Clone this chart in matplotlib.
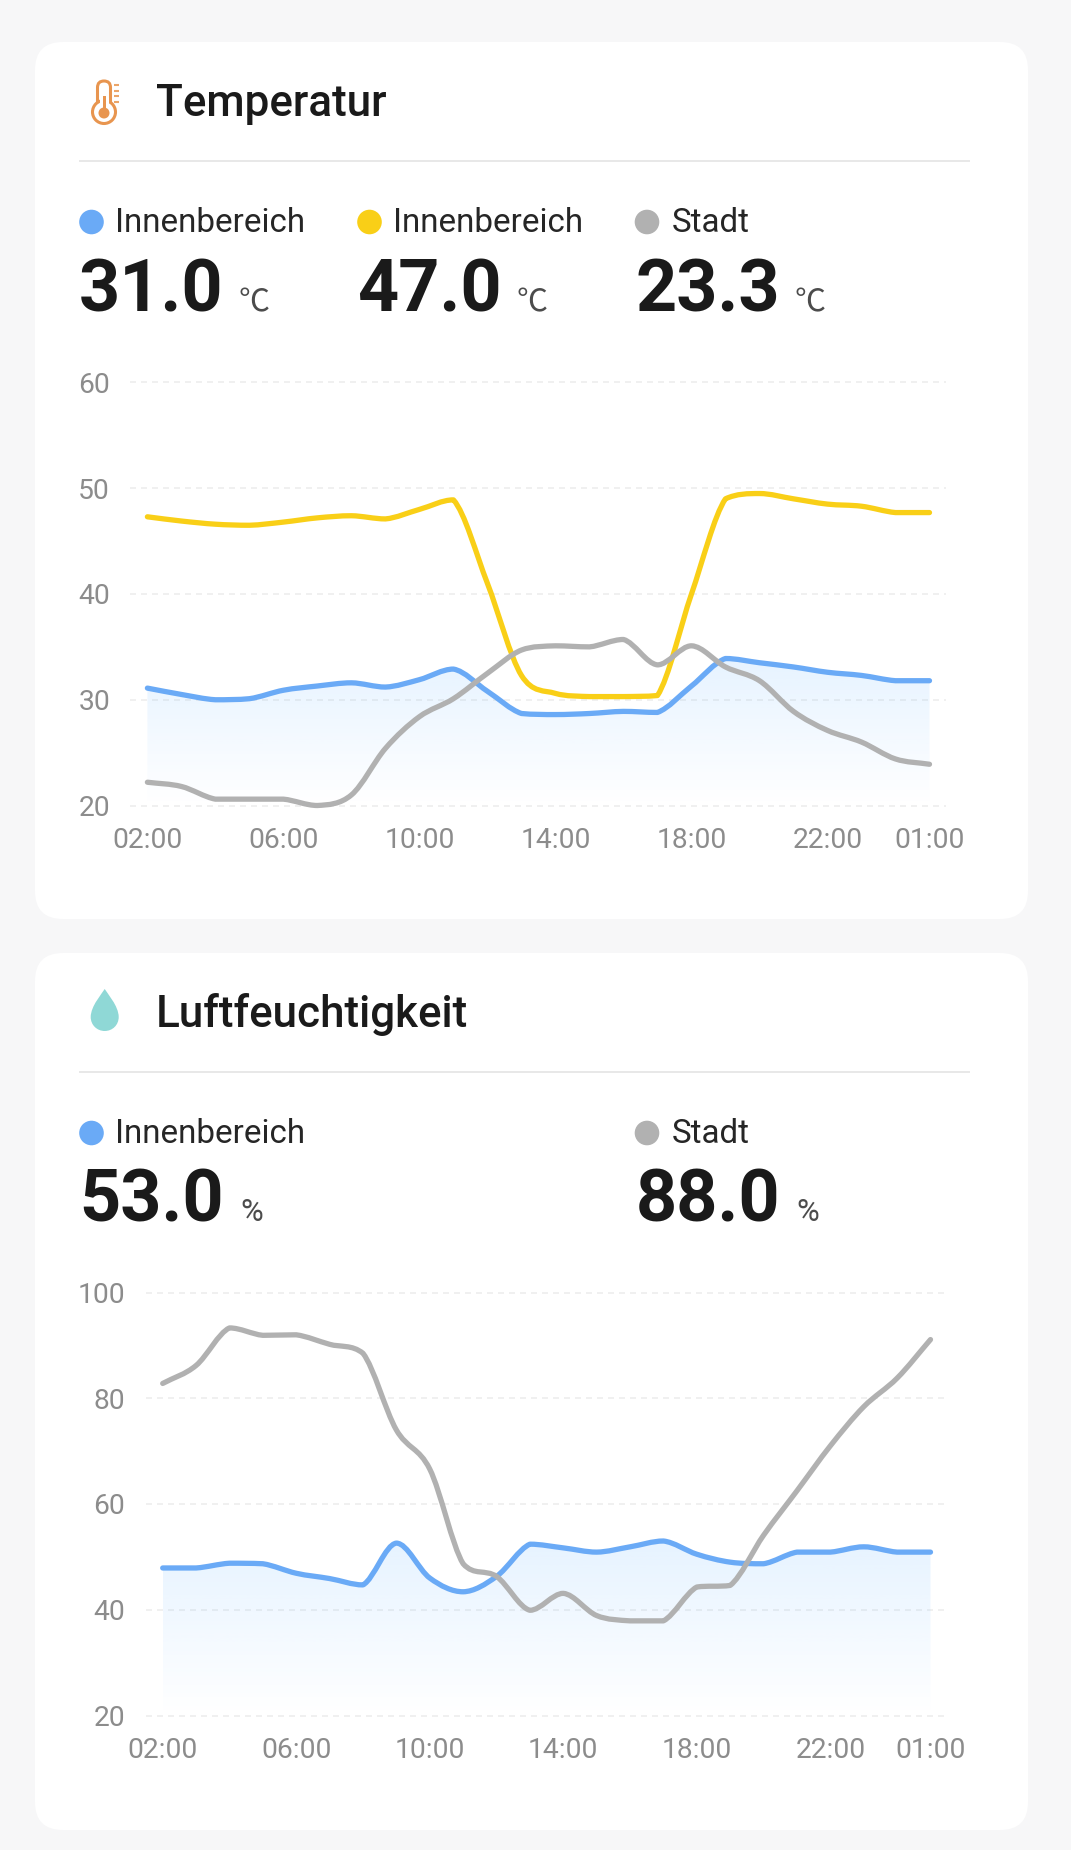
import numpy as np
import matplotlib
matplotlib.use("Agg")
import matplotlib.pyplot as plt
from matplotlib.patches import FancyBboxPatch, PathPatch, Circle, Rectangle
from matplotlib.path import Path

plt.rcParams["font.family"] = ["Roboto", "Noto Sans CJK SC", "DejaVu Sans"]

W, H = 1071, 1850

stunden = ["02:00", "03:00", "04:00", "05:00", "06:00", "07:00", "08:00", "09:00",
           "10:00", "11:00", "12:00", "13:00", "14:00", "15:00", "16:00", "17:00",
           "18:00", "19:00", "20:00", "21:00", "22:00", "23:00", "00:00", "01:00"]
tick_stunden = ["02:00", "06:00", "10:00", "14:00", "18:00", "22:00", "01:00"]

temp_innen = [31.1, 30.5, 30.0, 30.1, 30.9, 31.3, 31.6, 31.2, 31.9, 32.9, 30.8, 28.7,
              28.6, 28.7, 28.9, 28.8, 31.3, 33.9, 33.5, 33.1, 32.6, 32.3, 31.8, 31.8]
temp_innen2 = [47.3, 46.9, 46.6, 46.5, 46.8, 47.2, 47.4, 47.1, 48.0, 48.9, 41.0, 32.3,
               30.6, 30.3, 30.3, 30.4, 40.0, 49.0, 49.5, 49.0, 48.5, 48.3, 47.7, 47.7]
temp_stadt = [22.2, 21.8, 20.6, 20.6, 20.6, 20.0, 21.0, 25.4, 28.4, 30.1, 32.5, 34.7,
              35.1, 35.0, 35.7, 33.3, 35.1, 33.1, 31.8, 28.9, 27.1, 26.0, 24.4, 23.9]
temp_ticks = [20, 30, 40, 50, 60]

feucht_innen = [47.9, 47.9, 48.8, 48.7, 46.9, 45.9, 44.7, 52.6, 46.0, 43.4, 46.3, 52.4,
                51.7, 50.9, 51.9, 53.0, 50.5, 49.0, 48.7, 50.9, 50.9, 51.9, 50.9, 50.9]
feucht_stadt = [82.8, 86.2, 93.3, 91.9, 92.0, 90.2, 88.5, 74.0, 66.6, 48.7, 46.3, 39.9,
                43.1, 38.9, 37.9, 37.9, 44.3, 44.6, 54.1, 62.5, 71.0, 78.4, 83.8, 91.1]
feucht_ticks = [20, 40, 60, 80, 100]

BLAU = "#6aaaf6"
GELB = "#f9cf17"
GRAU = "#b1b1b1"
ORANGE = "#e8954f"
TUERKIS = "#8fd8d6"
SCHWARZ = "#1a1a1a"


def px(v):
    return v * 0.72


def glatt_pfad(y):
    """Bezier-Pfad durch alle Stundenwerte, Kontrollpunkte bleiben zwischen den Nachbarn."""
    y = np.asarray(y, dtype=float)
    x = np.arange(len(y), dtype=float)
    m = np.gradient(y)
    verts = [(x[0], y[0])]
    codes = [Path.MOVETO]
    for i in range(len(y) - 1):
        lo, hi = min(y[i], y[i + 1]), max(y[i], y[i + 1])
        verts += [(x[i] + 1 / 3, np.clip(y[i] + m[i] / 3, lo, hi)),
                  (x[i + 1] - 1 / 3, np.clip(y[i + 1] - m[i + 1] / 3, lo, hi)),
                  (x[i + 1], y[i + 1])]
        codes += [Path.CURVE4] * 3
    return verts, codes


def chart(box, plot_x, ticks, serien, tick_pad):
    """Zeichnet ein Diagramm. box = links, oben, rechts, unten in Pixeln."""
    links, oben, rechts, unten = box
    ax = fig.add_axes([links / W, 1 - unten / H, (rechts - links) / W, (unten - oben) / H])
    ax.patch.set_alpha(0)
    schritt = (plot_x[1] - plot_x[0]) / (len(stunden) - 1)
    xlim = ((links - plot_x[0]) / schritt, (rechts - plot_x[0]) / schritt)

    # Flaeche unter der ersten Reihe, von oben nach unten ausgeblendet
    verts, codes = glatt_pfad(serien[0][0])
    flaeche = Path(verts + [(len(stunden) - 1, ticks[0]), (0, ticks[0]), (0, verts[0][1]), (0, verts[0][1])],
                   codes + [Path.LINETO, Path.LINETO, Path.LINETO, Path.CLOSEPOLY])
    verlauf = np.zeros((200, 1, 4))
    verlauf[:, 0, :3] = matplotlib.colors.to_rgb("#64b4ff")
    verlauf[:, 0, 3] = np.linspace(0.16, 0.0, 200)
    top = max(serien[0][0])
    bild = ax.imshow(verlauf, extent=(0, len(stunden) - 1, ticks[0], top), aspect="auto", zorder=1)
    bild.set_clip_path(PathPatch(flaeche, transform=ax.transData))

    for t in ticks:
        ax.plot(xlim, [t, t], color="#f0f0f0", lw=1.44, ls=(0, (3, 2.5)), zorder=0, clip_on=False)

    for i, (werte, farbe) in enumerate(serien):
        verts, codes = glatt_pfad(werte)
        ax.add_patch(PathPatch(Path(verts, codes), fill=False, ec=farbe, lw=3.8,
                               capstyle="round", joinstyle="round", zorder=2 + i, clip_on=False))

    ax.set_xlim(xlim)
    ax.set_ylim(ticks[0], ticks[-1])
    ax.set_xticks([stunden.index(s) for s in tick_stunden], tick_stunden)
    ax.set_yticks(ticks, [str(t) for t in ticks])
    ax.tick_params(length=0, labelsize=px(28.3), labelcolor="#8c8c8c")
    ax.tick_params(axis="x", pad=px(22))
    ax.tick_params(axis="y", pad=px(tick_pad))
    for s in ax.spines.values():
        s.set_visible(False)
    return ax


def karte(bg, y0, y1):
    bg.add_patch(FancyBboxPatch((35, y0), 993, y1 - y0, boxstyle="round,pad=0,rounding_size=28",
                                fc="white", ec="none"))


def kopf(bg, titel, basis, linie_y):
    bg.text(156, basis, titel, fontsize=px(44), fontweight="medium", color=SCHWARZ, va="baseline")
    bg.plot([79, 969.5], [linie_y, linie_y], color="#e4e4e4", lw=1.2, solid_capstyle="butt")


def wert(bg, punkt_x, label, zahl, einheit, farbe, label_y, zahl_y, zahl_x, einheit_x):
    bg.add_patch(Circle((punkt_x, label_y - 9), 12.3, fc=farbe, ec="none"))
    versatz = 23 if label.startswith("I") else 24.5
    bg.text(punkt_x + versatz, label_y + 1, label, fontsize=px(33.2), color="#262626", va="baseline")
    bg.text(zahl_x, zahl_y, zahl, fontsize=px(72), fontweight="bold", color=SCHWARZ, va="baseline")
    bg.text(einheit_x, zahl_y, einheit, fontsize=px(31), color="#4c4c4c", va="baseline")


def thermometer(bg):
    c = ORANGE
    bg.add_patch(FancyBboxPatch((97.5, 81), 13, 28, boxstyle="round,pad=0,rounding_size=6.5",
                                fc="white", ec=c, lw=2.2))
    bg.add_patch(Circle((104, 112), 11.5, fc="white", ec=c, lw=2.2))
    bg.add_patch(Rectangle((99.5, 98), 9, 10, fc="white", ec="none"))
    bg.add_patch(Rectangle((102.5, 96), 3, 14, fc=c, ec="none"))
    bg.add_patch(Circle((104, 113), 5.5, fc=c, ec="none"))
    for y in [85, 91, 96, 102]:
        bg.plot([114, 119], [y, y], color=c, lw=1.5, solid_capstyle="butt", alpha=0.85)


def tropfen(bg):
    verts = [(104.7, 989), (107, 993), (118.7, 1006), (118.7, 1017), (118.7, 1025), (112.5, 1031),
             (104.7, 1031), (97, 1031), (90.7, 1025), (90.7, 1017), (90.7, 1006), (102.4, 993),
             (104.7, 989), (104.7, 989)]
    codes = [Path.MOVETO] + [Path.CURVE4] * 12 + [Path.CLOSEPOLY]
    bg.add_patch(PathPatch(Path(verts, codes), fc=TUERKIS, ec="none"))


fig = plt.figure(figsize=(W / 100, H / 100), dpi=100, facecolor="#f7f7f8")
bg = fig.add_axes([0, 0, 1, 1])
bg.set_xlim(0, W)
bg.set_ylim(H, 0)
bg.axis("off")

karte(bg, 42, 919)
karte(bg, 953, 1830)

# Temperatur
thermometer(bg)
kopf(bg, "Temperatur", 116, 160.5)
wert(bg, 91.5, "Innenbereich", "31.0", "℃", BLAU, 231, 311, 78.5, 239)
wert(bg, 369.5, "Innenbereich", "47.0", "℃", GELB, 231, 311, 357, 517)
wert(bg, 647, "Stadt", "23.3", "℃", GRAU, 231, 311, 636, 795)
chart((130, 382.5, 946, 805.5), (147.4, 929.5), temp_ticks,
      [(temp_innen, BLAU), (temp_innen2, GELB), (temp_stadt, GRAU)], 20)

# Luftfeuchtigkeit
tropfen(bg)
kopf(bg, "Luftfeuchtigkeit", 1026.7, 1071.7)
wert(bg, 91.5, "Innenbereich", "53.0", "%", BLAU, 1142, 1221, 79, 240)
wert(bg, 647, "Stadt", "88.0", "%", GRAU, 1142, 1221, 636, 796)
chart((146, 1292.5, 945, 1715.5), (162.7, 930.5), feucht_ticks,
      [(feucht_innen, BLAU), (feucht_stadt, GRAU)], 21)

fig.savefig("out.png", dpi=100, facecolor=fig.get_facecolor())
